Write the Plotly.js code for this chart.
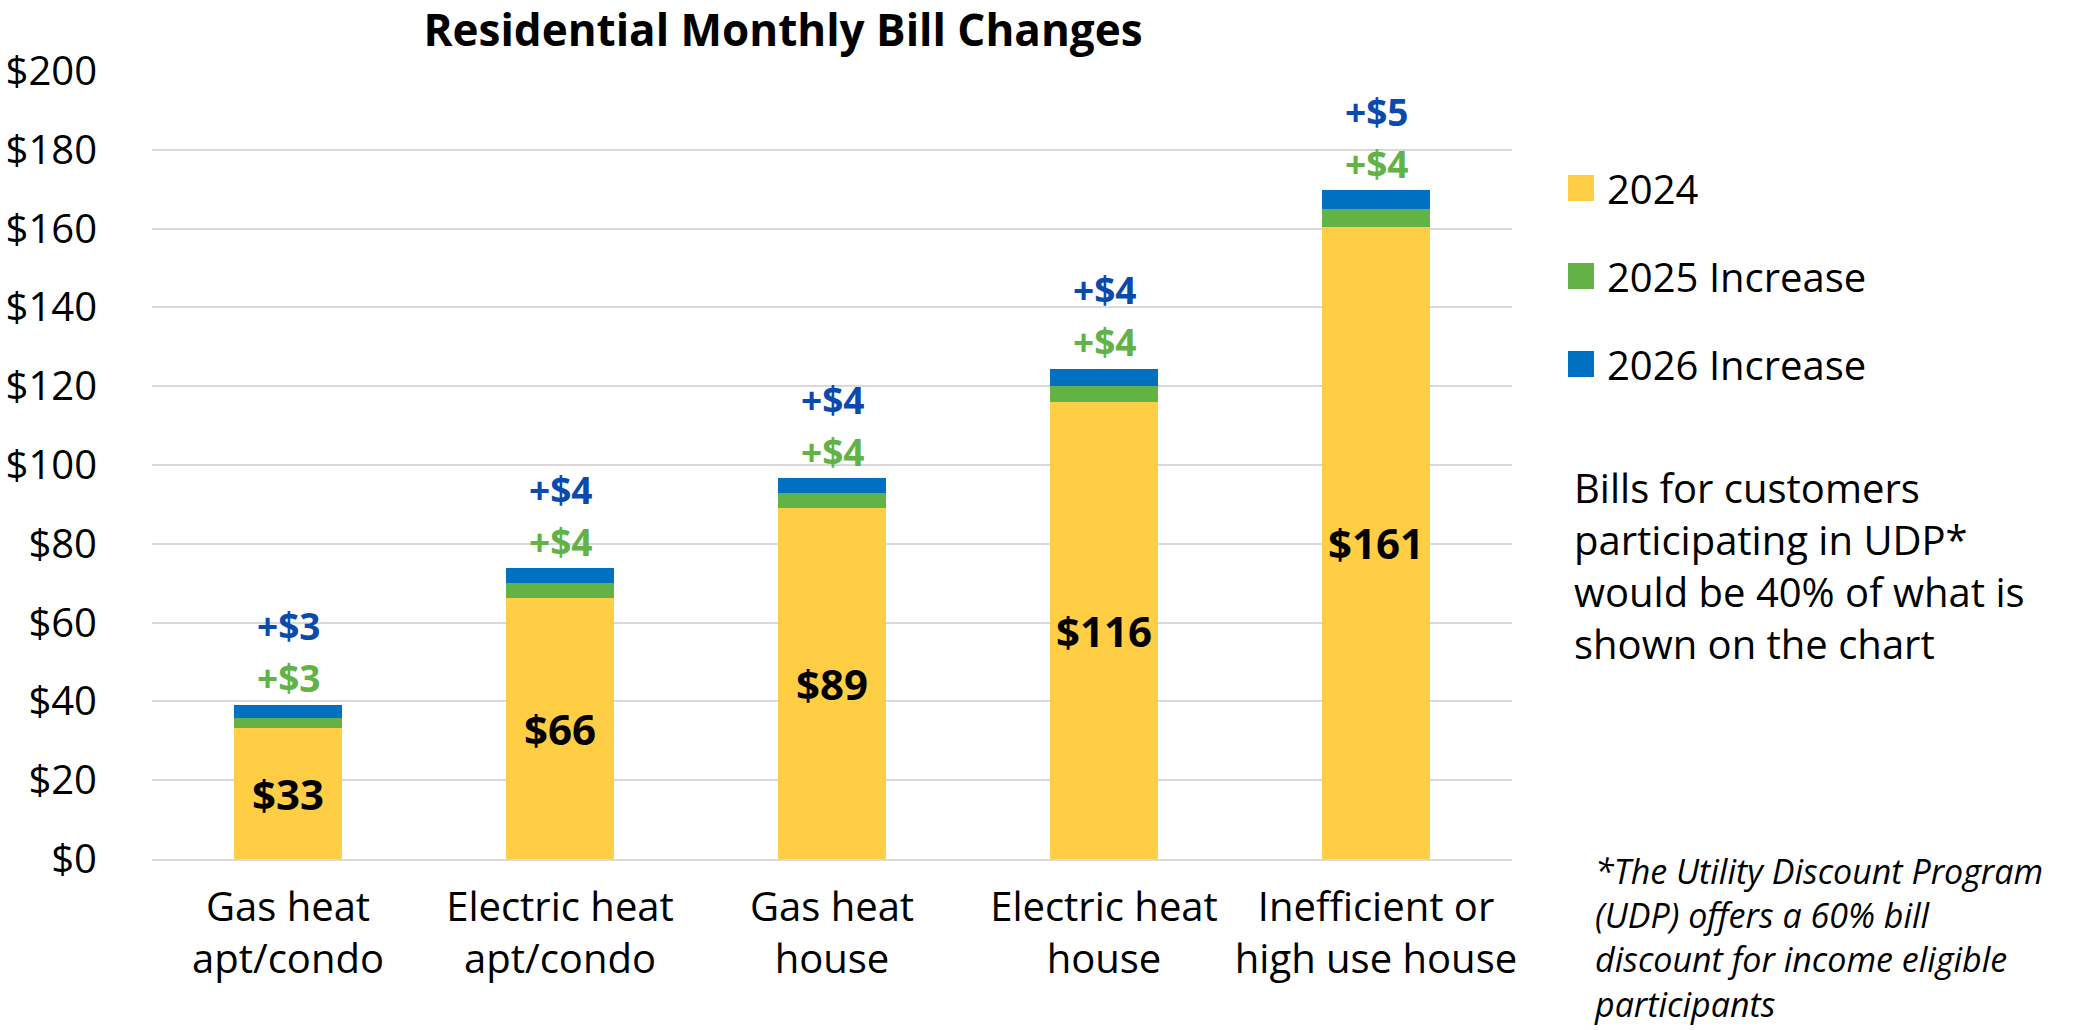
<!DOCTYPE html>
<html>
<head>
<meta charset="utf-8">
<script src="https://cdn.plot.ly/plotly-3.0.1.min.js"></script>
<style>
html,body{margin:0;padding:0;background:#fff;}
#chart{width:2075px;height:1030px;}
</style>
</head>
<body>
<div id="chart"></div>
<script>
// ---- data ----
const categories = ['Gas heat<br>apt/condo', 'Electric heat<br>apt/condo', 'Gas heat<br>house', 'Electric heat<br>house', 'Inefficient or<br>high use house'];
const bill2024 = [33.2, 66.2, 89.0, 116.0, 160.5];
const inc2025 = [2.6, 3.9, 3.8, 4.1, 4.4];
const inc2026 = [3.3, 3.7, 3.8, 4.3, 4.8];
const seriesNames = ['2024', '2025 Increase', '2026 Increase'];
const chartTitle = 'Residential Monthly Bill Changes';
const noteText = ['Bills for customers', 'participating in UDP*', 'would be 40% of what is', 'shown on the chart'];
const footnoteText = ['*The Utility Discount Program', '(UDP) offers a 60% bill', 'discount for income eligible', 'participants'];

// ---- styles ----
const FONT = 'Open Sans, Noto Sans, sans-serif';
const colors = ['#FFCE44', '#63B246', '#0070C0'];
const labelColors = ['#000000', '#62B346', '#0B4AAB'];

const W = 2075, H = 1030;
const M = {l: 152, r: 563, t: 71, b: 171};
const plotW = W - M.l - M.r, plotH = H - M.t - M.b;
const px = x => (x - M.l) / plotW;
const py = y => (H - M.b - y) / plotH;

const traces = [
  {type: 'bar', name: seriesNames[0], x: categories, y: bill2024,
   marker: {color: colors[0], line: {width: 0}},
   texttemplate: '$%{y:.0f}', textposition: 'inside', insidetextanchor: 'middle',
   textangle: 0, constraintext: 'none',
   textfont: {family: FONT, size: 42, weight: 700, color: '#000'},
   hoverinfo: 'skip'},
  {type: 'bar', name: seriesNames[1], x: categories, y: inc2025,
   marker: {color: colors[1], line: {width: 0}}, hoverinfo: 'skip'},
  {type: 'bar', name: seriesNames[2], x: categories, y: inc2026,
   marker: {color: colors[2], line: {width: 0}}, hoverinfo: 'skip'}
];

const annotations = [];
categories.forEach((c, i) => {
  const total = bill2024[i] + inc2025[i] + inc2026[i];
  annotations.push({x: c, y: total, xref: 'x', yref: 'y', yshift: 27, yanchor: 'middle', xanchor: 'center',
    text: '+$' + Math.round(inc2025[i]), showarrow: false,
    font: {family: FONT, size: 37, weight: 700, color: labelColors[1]}});
  annotations.push({x: c, y: total, xref: 'x', yref: 'y', yshift: 79, yanchor: 'middle', xanchor: 'center',
    text: '+$' + Math.round(inc2026[i]), showarrow: false,
    font: {family: FONT, size: 37, weight: 700, color: labelColors[2]}});
});

// manual legend
const shapes = [];
const legendY = [188, 276, 364];
seriesNames.forEach((n, i) => {
  shapes.push({type: 'rect', xref: 'paper', yref: 'paper',
    x0: px(1568), x1: px(1594), y0: py(legendY[i] + 13), y1: py(legendY[i] - 13),
    fillcolor: colors[i], line: {width: 0}});
  annotations.push({xref: 'paper', yref: 'paper', x: px(1605), y: py(legendY[i]),
    xanchor: 'left', yanchor: 'middle', text: n, showarrow: false,
    font: {family: FONT, size: 40, color: '#000'}});
});

// side note
annotations.push({xref: 'paper', yref: 'paper', x: px(1572), y: py(458), xanchor: 'left', yanchor: 'top',
  align: 'left', text: noteText.join('<br>'), showarrow: false,
  font: {family: FONT, size: 40, color: '#000'}});

// footnote
annotations.push({xref: 'paper', yref: 'paper', x: px(1592), y: py(846), xanchor: 'left', yanchor: 'top',
  align: 'left', text: footnoteText.join('<br>'), showarrow: false,
  font: {family: FONT, size: 34, style: 'italic', color: '#000'}});

const layout = {
  width: W, height: H,
  margin: M,
  paper_bgcolor: '#fff', plot_bgcolor: '#fff',
  barmode: 'stack', bargap: 0.6,
  showlegend: false,
  font: {family: FONT, color: '#000'},
  title: {text: chartTitle, font: {family: FONT, size: 44, weight: 700, color: '#000'},
    xref: 'container', yref: 'container', x: 783 / W, xanchor: 'center', y: 1 - 31 / H, yanchor: 'middle'},
  xaxis: {type: 'category', showgrid: false, ticks: '', showline: true, linecolor: '#D9D9D9', linewidth: 2,
    tickfont: {family: FONT, size: 40, color: '#000'}, ticklabelstandoff: 12, fixedrange: true},
  yaxis: {range: [0, 200], tick0: 0, dtick: 20, tickprefix: '$', showgrid: true, gridcolor: '#D9D9D9', gridwidth: 2,
    zeroline: false, showline: false, ticks: '', tickfont: {family: FONT, size: 40, color: '#000'},
    ticklabelstandoff: 54, fixedrange: true},
  shapes: shapes,
  annotations: annotations
};

Plotly.newPlot('chart', traces, layout, {displayModeBar: false, staticPlot: true});
</script>
</body>
</html>
